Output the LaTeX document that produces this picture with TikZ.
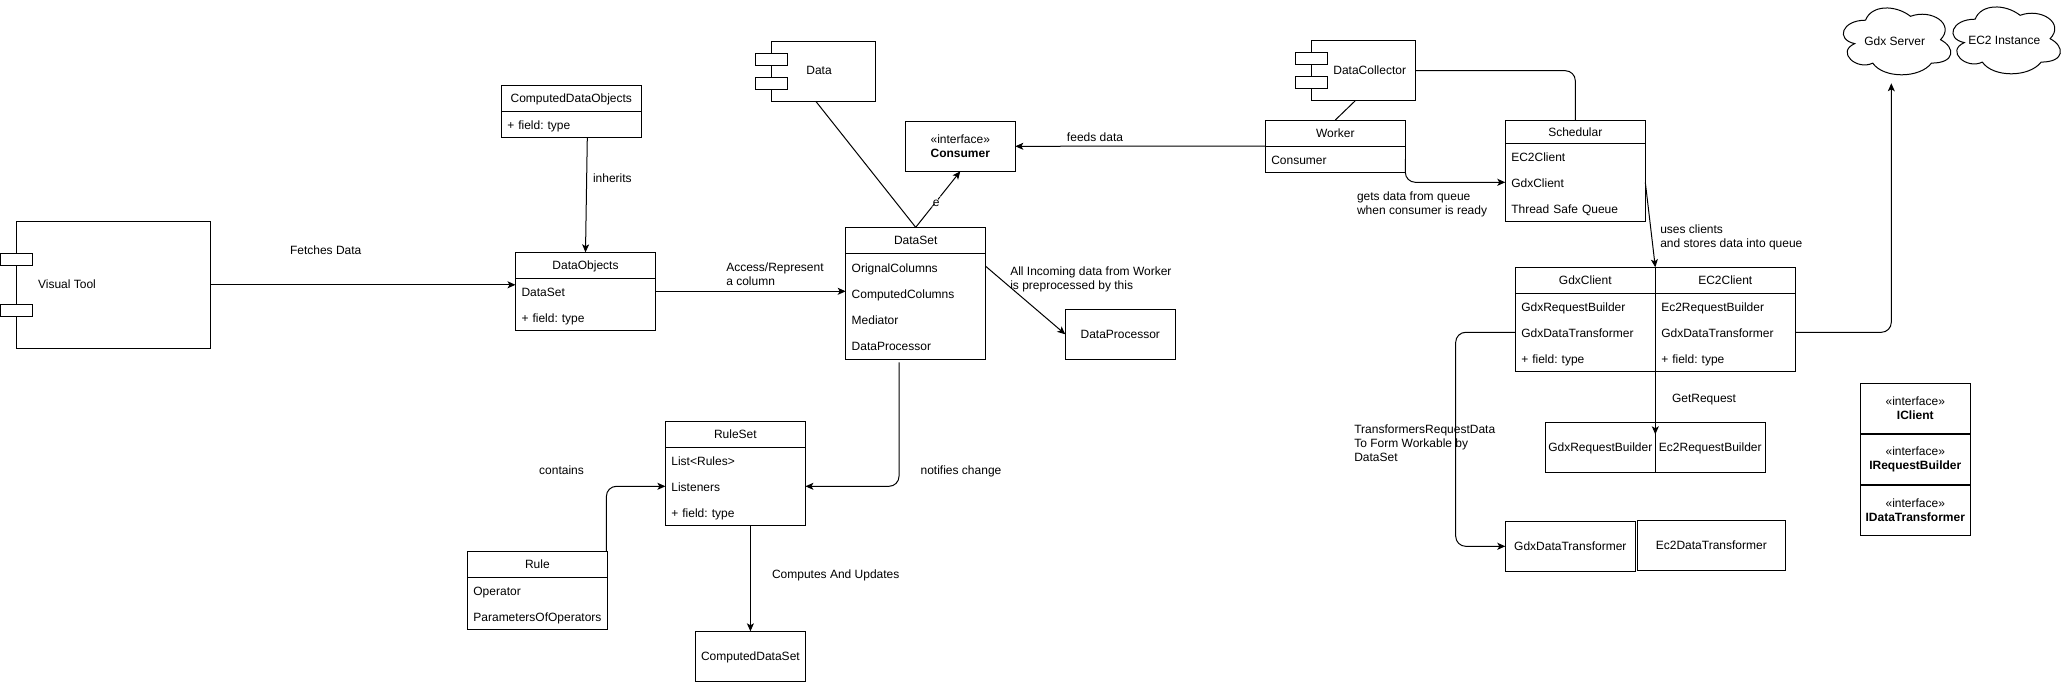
\documentclass[tikz,border=0pt]{standalone}
\usepackage{fontspec}
\setmainfont{Liberation Sans}
\usepackage{tikz}
\usetikzlibrary{arrows.meta,positioning}

\newcommand{\rowstrut}{\rule[-8pt]{0pt}{26pt}}
\newcommand{\cloudoutline}[1]{%
  \draw[line width=1pt, shift={([xshift=0.8pt]#1.north west)}, x=120pt, y=-78pt]
    (.25,.25) .. controls (.05,.25) and (0,.5) .. (.16,.55)
    .. controls (0,.66) and (.18,.9) .. (.31,.8)
    .. controls (.4,1) and (.7,1) .. (.8,.8)
    .. controls (1,.8) and (1,.6) .. (.875,.5)
    .. controls (1,.3) and (.8,.1) .. (.625,.2)
    .. controls (.5,.05) and (.3,.05) .. (.25,.25) -- cycle;}

\begin{document}
\begin{tikzpicture}[
  x=1pt, y=-1pt,
  every node/.style={font=\fontsize{12}{14}\selectfont\frenchspacing, inner sep=0pt, outer sep=0pt},
  conn/.style={line width=1pt, rounded corners=10pt},
  arrow/.style={conn, -{Stealth[length=8pt, width=7pt, inset=2pt]}},
  classhead/.style={draw, line width=1pt, minimum width=140pt, minimum height=26pt,
                    anchor=north west, text height=9pt, text depth=0pt},
  classbody/.style={draw, line width=1pt, text width=128pt, inner xsep=6pt, align=left,
                    font=\fontsize{12}{26}\selectfont\frenchspacing,
                    execute at begin node=\rowstrut, execute at end node=\rowstrut},
  plainbox/.style={draw, line width=1pt, minimum width=110pt, minimum height=50pt,
                   anchor=north west, text height=9pt, text depth=0pt},
  iface/.style={draw, line width=1pt, minimum width=110pt, minimum height=50pt,
                anchor=north west, align=center},
  component/.style={draw, line width=1pt, anchor=north west},
  comptab/.style={draw, line width=1pt, fill=white, minimum width=32pt, minimum height=12pt},
  cloudbox/.style={minimum width=120pt, minimum height=80pt, anchor=north west,
                   text height=9pt, text depth=0pt},
  lbl/.style={text height=9pt, text depth=0pt},
  note/.style={anchor=west, align=left}
]
  \useasboundingbox (0,0) rectangle (2066,683);

  \node[component, minimum width=194pt, minimum height=127pt] (visualtool) at (16.5,221.3) {};
  \node[comptab]             (vttab1) at (16.5,259.5) {};
  \node[comptab]             (vttab2) at (16.5,310.3) {};
  \node[lbl]                 (visualtoollbl) at (67,283.7) {Visual Tool};

  \node[classhead]           (computedobj) at (501.3,85.3) {ComputedDataObjects};
  \node[classbody, below=0pt of computedobj] (computedobjbody) {+ field: type};
  \node[classhead]           (dataobj) at (515.5,252.3) {DataObjects};
  \node[classbody, below=0pt of dataobj] (dataobjbody) {DataSet\\+ field: type};

  \node[component, minimum width=104pt, minimum height=60pt] (data) at (771.3,41.3) {};
  \node[comptab]             (datatab1) at (771.3,59.3) {};
  \node[comptab]             (datatab2) at (771.3,83.3) {};
  \node[lbl]                 (datalbl) at (819,69.7) {Data};

  \node[iface]               (consumer) at (905.3,121.3) {«interface»\\\textbf{Consumer}};

  \node[classhead]           (dataset) at (845.7,227.3) {DataSet};
  \node[classbody, below=0pt of dataset, minimum height=106pt] (datasetbody)
    {OrignalColumns\\ComputedColumns\\Mediator\\DataProcessor};
  \node[plainbox]            (dataprocessor) at (1065.3,309.3) {DataProcessor};

  \node[classhead]           (ruleset) at (665.4,421.3) {RuleSet};
  \node[classbody, below=0pt of ruleset] (rulesetbody) {List<Rules>\\Listeners\\+ field: type};
  \node[classhead]           (rule) at (467.4,551.3) {Rule};
  \node[classbody, below=0pt of rule] (rulebody) {Operator\\ParametersOfOperators};
  \node[plainbox]            (computedset) at (695.4,631.3) {ComputedDataSet};

  \node[component, minimum width=104pt, minimum height=60pt] (datacollector) at (1311.3,40.7) {};
  \node[comptab]             (dctab1) at (1311.3,58.7) {};
  \node[comptab]             (dctab2) at (1311.3,82.7) {};
  \node[lbl]                 (datacollectorlbl) at (1369.7,69.7) {DataCollector};

  \node[classhead]           (worker) at (1265.3,120) {Worker};
  \node[classbody, below=0pt of worker] (workerbody) {Consumer};
  \node[classhead, minimum height=23.3pt] (schedular) at (1505.3,120) {Schedular};
  \node[classbody, below=0pt of schedular] (schedularbody) {EC2Client\\GdxClient\\Thread Safe Queue};

  \node[classhead]           (gdxclient) at (1515.3,267.3) {GdxClient};
  \node[classbody, below=0pt of gdxclient] (gdxclientbody)
    {GdxRequestBuilder\\GdxDataTransformer\\+ field: type};
  \node[classhead, right=0pt of gdxclient] (ec2client) {EC2Client};
  \node[classbody, below=0pt of ec2client] (ec2clientbody)
    {Ec2RequestBuilder\\GdxDataTransformer\\+ field: type};

  \node[plainbox]            (gdxbuilder) at (1545.3,422.3) {GdxRequestBuilder};
  \node[plainbox, right=0pt of gdxbuilder] (ec2builder) {Ec2RequestBuilder};
  \node[plainbox, minimum width=130pt] (gdxtransformer) at (1505.3,521.3) {GdxDataTransformer};
  \node[plainbox, minimum width=148pt] (ec2transformer) at (1637.3,520.3) {Ec2DataTransformer};

  \node[iface]               (iclient) at (1860.3,383.3) {«interface»\\\textbf{IClient}};
  \node[iface, below=1pt of iclient] (irequest) {«interface»\\\textbf{IRequestBuilder}};
  \node[iface, below=1pt of irequest] (itransformer) {«interface»\\\textbf{IDataTransformer}};

  \node[cloudbox]            (gdxserver) at (1834.7,0.7) {Gdx Server};
  \node[cloudbox]            (ec2instance) at (1944.3,-0.3) {EC2 Instance};
  \cloudoutline{gdxserver}
  \cloudoutline{ec2instance}

  \coordinate[below=2.6pt of gdxserver.south, xshift=-3.4pt] (gdxservertip);
  \coordinate[below=12pt of gdxbuilder.north east] (buildertip);

  \draw[arrow] (visualtool.east) -- (visualtool.east -| dataobj.west);
  \draw[arrow] ([xshift=16pt]computedobjbody.south) -- (dataobj.north);
  \draw[arrow] ([yshift=13pt]dataobjbody.east) -- ([yshift=15pt]datasetbody.west);
  \draw[conn]  ([xshift=-7.5pt]data.south) -- (dataset.north);
  \draw[arrow] (dataset.north) -- node[fill=white, lbl, pos=.46, inner sep=1pt] (elbl) {e} (consumer.south);
  \draw[arrow] ([yshift=40pt]datasetbody.east) -- (dataprocessor.west);
  \draw[arrow] (worker.south west) -- (consumer.east);
  \draw[conn]  ([xshift=-8pt]datacollector.south) -- (worker.north);
  \draw[conn]  (datacollector.east) -| (schedular.north);
  \draw[arrow] (workerbody.east) |- (schedularbody.west);
  \draw[arrow] (schedularbody.east) -- (gdxclient.north east);
  \draw[arrow] (ec2clientbody.east) -| (gdxservertip);
  \draw[arrow] (gdxclientbody.south east) -- (buildertip);
  \draw[arrow] (gdxclientbody.west) -- ++(-59.6,0) |- (gdxtransformer.west);
  \draw[arrow] ([xshift=-16.7pt,yshift=-3pt]datasetbody.south) |- (rulesetbody.east);
  \draw[arrow] ([xshift=-1pt]rule.north east) |- (rulesetbody.west);
  \draw[arrow] (computedset.north |- rulesetbody.south) -- (computedset.north);

  \node[lbl]  (fetcheslbl) at (325.7,249.7) {Fetches Data};
  \node[lbl, anchor=west] (inheritslbl) at (593,177.7) {inherits};
  \node[note] (accesslbl) at (726.3,274.5) {Access/Represent\\a column};
  \node[note] (incominglbl) at (1010.3,279.7) {All Incoming data from Worker\\is preprocessed by this};
  \node[lbl]  (feedslbl) at (1095,136.7) {feeds data};
  \node[note] (getslbl) at (1357,204.7) {gets data from queue\\when consumer is ready};
  \node[note] (useslbl) at (1660.3,237.7) {uses clients\\and stores data into queue};
  \node[lbl]  (getrequestlbl) at (1704,397.7) {GetRequest};
  \node[note] (transformlbl) at (1354.3,442.8) {TransformersRequestData\\To Form Workable by\\DataSet};
  \node[lbl]  (containslbl) at (561.5,469.7) {contains};
  \node[lbl]  (notifieslbl) at (961,469.7) {notifies change};
  \node[lbl]  (computeslbl) at (835.7,573.7) {Computes And Updates};
\end{tikzpicture}
\end{document}
